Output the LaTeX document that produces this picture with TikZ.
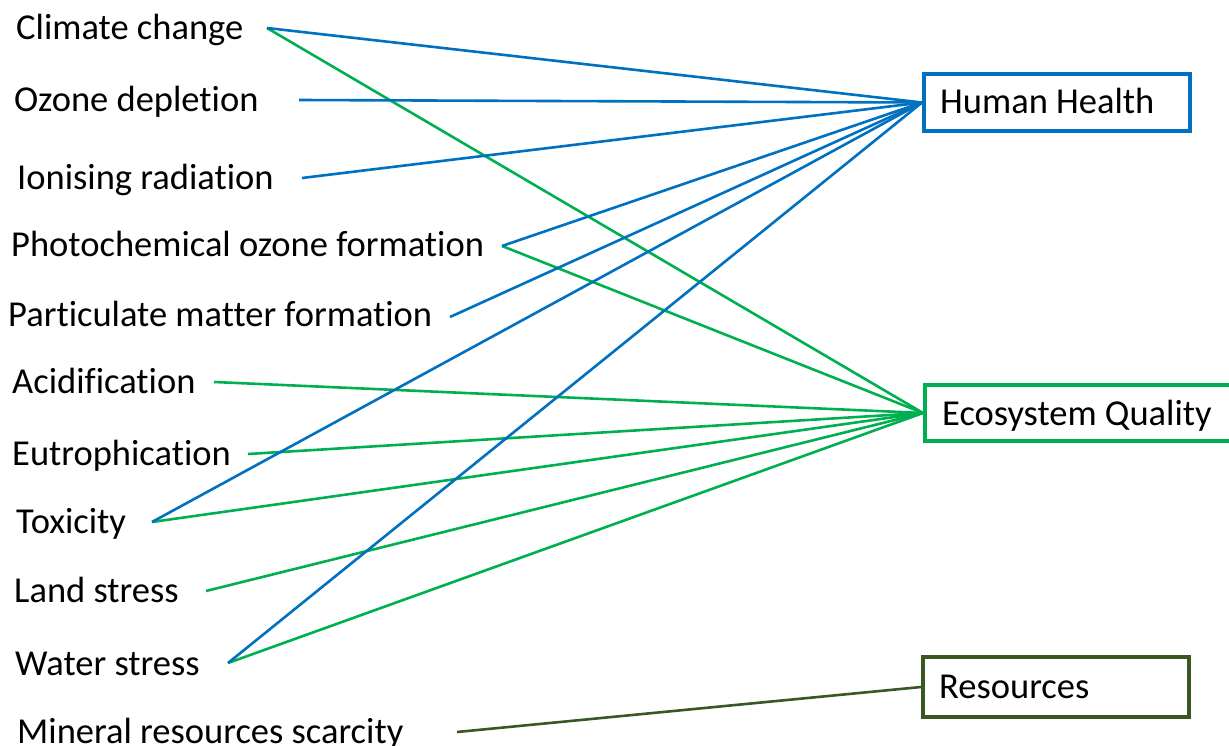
\documentclass[tikz,border=0pt]{standalone}
\usepackage{fontspec}
\setmainfont{Carlito}[Ligatures=NoCommon]
\definecolor{hhblue}{HTML}{0070C0}
\definecolor{eqgreen}{HTML}{00B050}
\definecolor{resgreen}{HTML}{385723}
\tikzset{
  lbl/.style={anchor=base west, inner sep=0pt, font=\fontsize{36.5}{43}\selectfont},
  catbox/.style={draw, line width=4pt, minimum height=57pt, inner sep=0pt},
  hhline/.style={draw=hhblue, line width=2.6pt},
  eqline/.style={draw=eqgreen, line width=2.6pt},
  resline/.style={draw=resgreen, line width=2.6pt},
}
\begin{document}
\begin{tikzpicture}[x=1pt,y=-1pt]
\useasboundingbox (0,0) rectangle (1229,746);
% boxes
\node[catbox, draw=hhblue, minimum width=266pt] (hh) at (1057,102.5) {};
\node[catbox, draw=eqgreen, minimum width=310pt, minimum height=56pt] (eq) at (1080,413) {};
\node[catbox, draw=resgreen, minimum width=266pt, minimum height=60pt] (res) at (1056,687) {};
\node[lbl] (hht) at (940,114) {Human Health};
\node[lbl] (eqt) at (942,425) {Ecosystem Quality};
\node[lbl] (rest) at (939,698) {Resources};
% left labels
\node[lbl] (cc) at (16,40) {Climate change};
\node[lbl] (od) at (14,112) {Ozone depletion};
\node[lbl] (ir) at (17,190) {Ionising radiation};
\node[lbl] (po) at (11,257) {Photochemical ozone formation};
\node[lbl] (pm) at (8,326) {Particulate matter formation};
\node[lbl] (ac) at (12,393) {Acidification};
\node[lbl] (eu) at (12,465) {Eutrophication};
\node[lbl] (tx) at (16,533) {Toxicity};
\node[lbl] (ls) at (14,602) {Land stress};
\node[lbl] (ws) at (15,675) {Water stress};
\node[lbl] (mr) at (17,743) {Mineral resources scarcity};
% connector start points
\coordinate (ccp) at (267,28);
\coordinate (odp) at (299,100);
\coordinate (irp) at (302,178);
\coordinate (pop) at (502,246);
\coordinate (pmp) at (450,317);
\coordinate (acp) at (214,382);
\coordinate (eup) at (248,454);
\coordinate (txp) at (152,522);
\coordinate (lsp) at (206,591);
\coordinate (wsp) at (228,663);
\coordinate (mrp) at (457,732);
% green connectors
\draw[eqline] (ccp) -- (eq.west);
\draw[eqline] (pop) -- (eq.west);
\draw[eqline] (acp) -- (eq.west);
\draw[eqline] (eup) -- (eq.west);
\draw[eqline] (txp) -- (eq.west);
\draw[eqline] (lsp) -- (eq.west);
\draw[eqline] (wsp) -- (eq.west);
% blue connectors
\draw[hhline] (ccp) -- (hh.west);
\draw[hhline] (odp) -- (hh.west);
\draw[hhline] (irp) -- (hh.west);
\draw[hhline] (pop) -- (hh.west);
\draw[hhline] (pmp) -- (hh.west);
\draw[hhline] (txp) -- (hh.west);
\draw[hhline] (wsp) -- (hh.west);
% resources
\draw[resline] (mrp) -- (res.west);
\end{tikzpicture}
\end{document}
